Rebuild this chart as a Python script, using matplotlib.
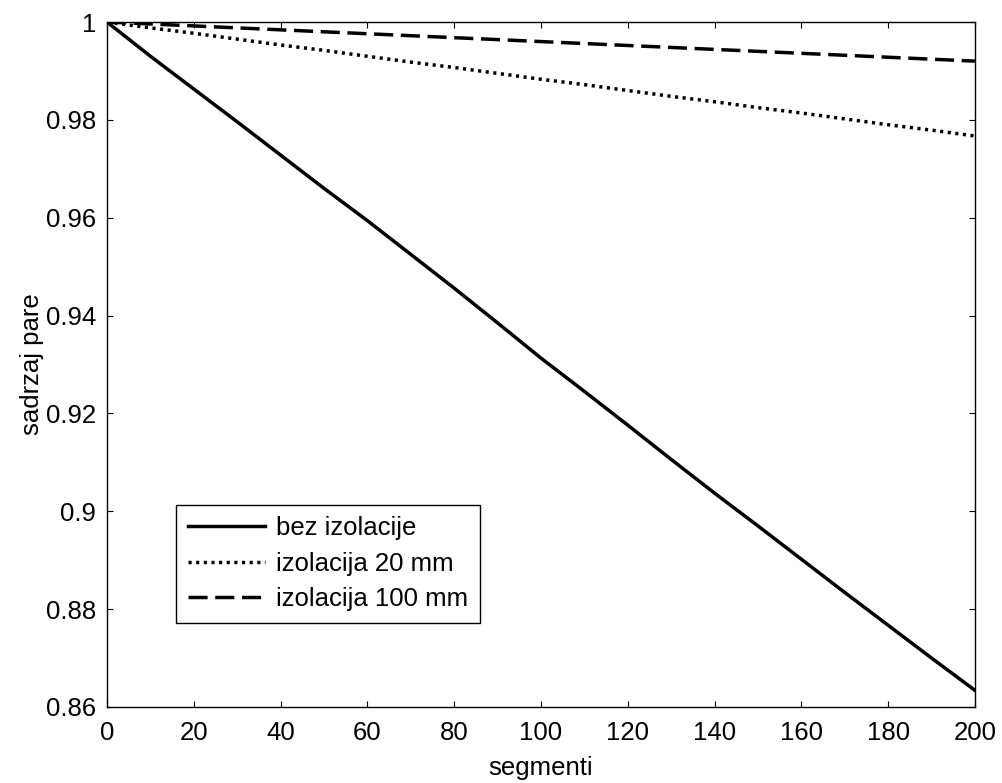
import matplotlib
matplotlib.use("Agg")
import matplotlib.pyplot as plt

# segment index and steam content
segments = [0, 10, 20, 30, 40, 50, 60, 70, 80, 90, 100,
            110, 120, 130, 140, 150, 160, 170, 180, 190, 200]
bez_izolacije = [1.0, 0.9930, 0.9863, 0.9796, 0.9728, 0.9660, 0.9594, 0.9525,
                 0.9456, 0.9385, 0.9313, 0.9245, 0.9176, 0.9106, 0.9037, 0.8970,
                 0.8902, 0.8834, 0.8767, 0.8700, 0.8634]
izolacija_20 = [1.0, 0.9988, 0.9977, 0.9965, 0.9953, 0.9942, 0.9930, 0.9918,
                0.9907, 0.9895, 0.9883, 0.9872, 0.9860, 0.9848, 0.9837, 0.9825,
                0.9814, 0.9802, 0.9790, 0.9779, 0.9767]
izolacija_100 = [1.0, 0.9996, 0.9992, 0.9988, 0.9984, 0.9980, 0.9976, 0.9972,
                 0.9968, 0.9964, 0.9960, 0.9956, 0.9952, 0.9948, 0.9944, 0.9940,
                 0.9936, 0.9932, 0.9928, 0.9924, 0.9920]
labels = ["bez izolacije", "izolacija 20 mm", "izolacija 100 mm"]
x_ticks = [0, 20, 40, 60, 80, 100, 120, 140, 160, 180, 200]
y_ticks = [0.86, 0.88, 0.9, 0.92, 0.94, 0.96, 0.98, 1.0]
y_ticklabels = ["0.86", "0.88", "0.9", "0.92", "0.94", "0.96", "0.98", "1"]

plt.rcParams["font.family"] = ["Liberation Sans", "DejaVu Sans"]
plt.rcParams["font.size"] = 18.5

fig = plt.figure(figsize=(10.02, 7.83), dpi=100)
ax = fig.add_axes([0.1068, 0.0971, 0.8662, 0.8748])

lw = 2.5
ax.plot(segments, bez_izolacije, color="black", linewidth=lw, label=labels[0])
ax.plot(segments, izolacija_20, color="black", linewidth=lw,
        linestyle=(0, (0.9, 1.3)), label=labels[1])
ax.plot(segments, izolacija_100, color="black", linewidth=lw,
        linestyle=(0, (5.5, 2.2)), label=labels[2])

ax.set_xlim(0, 200)
ax.set_ylim(0.86, 1.0)
ax.set_xticks(x_ticks)
ax.set_yticks(y_ticks)
ax.set_yticklabels(y_ticklabels)
ax.tick_params(direction="in", length=4, width=0.8, top=True, right=True, pad=8)
ax.tick_params(axis="x", pad=10)
for spine in ax.spines.values():
    spine.set_linewidth(1.0)

ax.set_xlabel("segmenti", labelpad=8)
ax.set_ylabel("sadrzaj pare", labelpad=1)

leg = ax.legend(loc="lower left", bbox_to_anchor=(0.0795, 0.1226),
                borderaxespad=0, fancybox=False, handlelength=3.0,
                handletextpad=0.45, labelspacing=0.45, borderpad=0.45)
leg.get_frame().set_edgecolor("black")
leg.get_frame().set_linewidth(1.0)
leg.get_frame().set_alpha(1)

fig.savefig("out.png", dpi=100)
